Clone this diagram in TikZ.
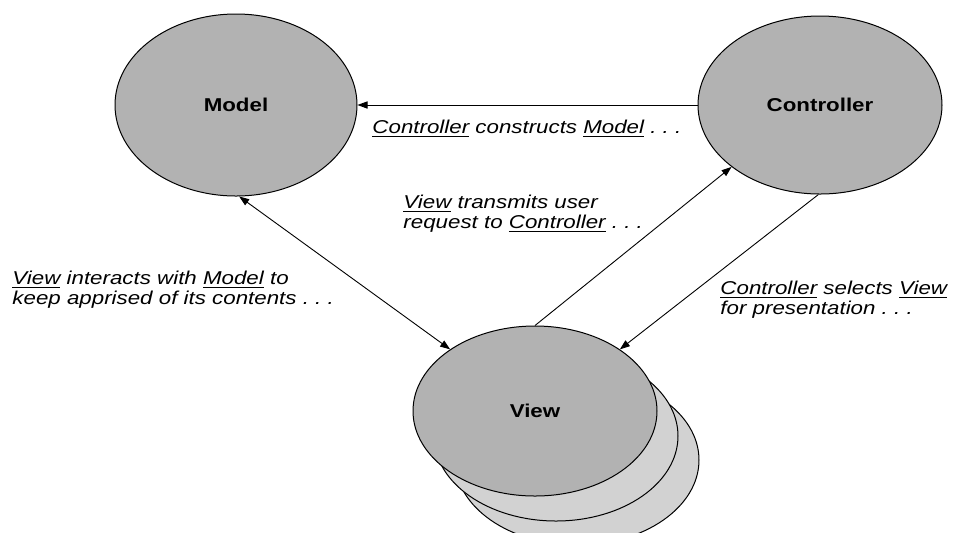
\documentclass[tikz,border=0pt]{standalone}
\usepackage{fontspec}
\usepackage{graphicx}
\usetikzlibrary{shapes.geometric,arrows.meta}
\newfontfamily\arialfont{Liberation Sans}
\newcommand{\wide}[1]{\scalebox{1.2}[1]{#1}}
\definecolor{blobgray}{HTML}{B2B2B2}
\definecolor{stackgray}{HTML}{D2D2D2}
\begin{document}
\begin{tikzpicture}[x=0.5pt,y=-0.5pt,
        blob/.style={ellipse,draw=black,line width=0.5pt,fill=blobgray,inner sep=0pt,
          font=\arialfont\bfseries\fontsize{9.3}{11}\selectfont},
        stack/.style={blob,fill=stackgray},
        note/.style={inner sep=0pt,align=left,xscale=1.2,
          font=\arialfont\itshape\fontsize{9.3}{10}\selectfont},
        link/.style={line width=0.45pt,-{Triangle[length=5pt,width=3.6pt]}},
        both/.style={link,{Triangle[length=5pt,width=3.6pt]}-{Triangle[length=5pt,width=3.6pt]}}]
        \useasboundingbox (0,0) rectangle (954,532);
        \fill [white] (0,0) rectangle (954,532);
        % the three parts
        \node [blob,minimum width=121pt,minimum height=91pt] (model) at (236,105) {\wide{Model}};
        \node [blob,minimum width=122pt,minimum height=89pt] (controller) at (820,105) {\wide{Controller}};
        \node [stack,minimum width=122pt,minimum height=85pt] (viewc) at (577,460) {};
        \node [stack,minimum width=122pt,minimum height=85pt] (viewb) at (556,436) {};
        \node [blob,minimum width=122pt,minimum height=85pt] (view) at (535,411) {\wide{View}};
        % connectors
        \draw [link] (controller.180) -- (model.0);
        \draw [both] (model.-88) -- (view.144);
        \draw [link] (view.90) -- (controller.215);
        \draw [link] (controller.269) -- (view.36);
        % notes
        \node [note,anchor=base west] (constructs) at (372,133)
          {\underline{Controller} constructs \underline{Model} .\ .\ .};
        \node [note,anchor=west] (transmits) at (403,214)
          {\underline{View} transmits user\\request to \underline{Controller} .\ .\ .};
        \node [note,anchor=west] (interacts) at (12,290)
          {\underline{View} interacts with \underline{Model} to\\keep apprised of its contents .\ .\ .};
        \node [note,anchor=west] (selects) at (720,300)
          {\underline{Controller} selects \underline{View}\\for presentation .\ .\ .};
\end{tikzpicture}
\end{document}
